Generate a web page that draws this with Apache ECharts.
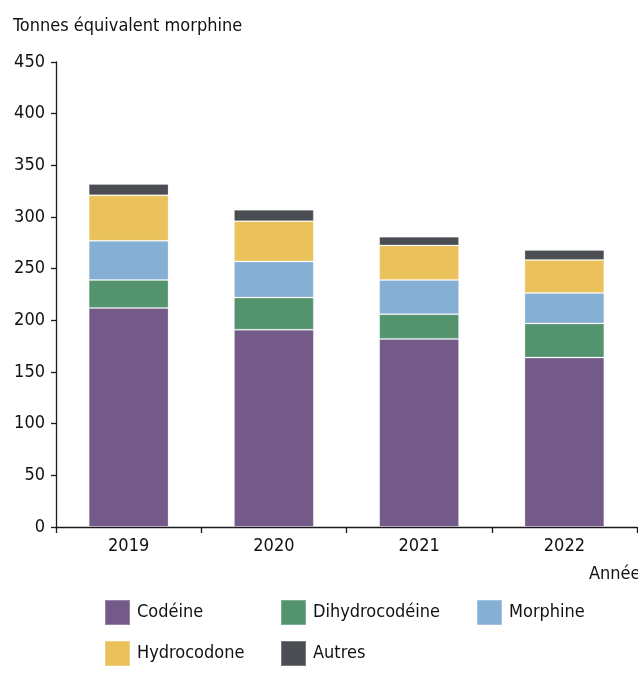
<!DOCTYPE html>
<html>
<head>
<meta charset="utf-8">
<script src="https://cdn.jsdelivr.net/npm/echarts@6/dist/echarts.min.js"></script>
<style>
html,body{margin:0;padding:0;background:#fff;}
#chart{width:638px;height:695px;}
</style>
</head>
<body>
<div id="chart"></div>
<script>
var years = ['2019', '2020', '2021', '2022'];
var codeine = [212, 191, 182, 164];
var dihydrocodeine = [27, 31, 24, 33];
var morphine = [38, 35, 33, 29.5];
var hydrocodone = [44, 39, 33.5, 32];
var autres = [11, 11, 8.5, 9.5];
var yTicks = [0, 50, 100, 150, 200, 250, 300, 350, 400, 450];

var FONT = "'Liberation Sans Narrow', 'DejaVu Sans Condensed', sans-serif";
var TXT = '#111111';
var FS = 18;

var seriesDefs = [
  {name: 'Codéine', data: codeine, color: '#735A89'},
  {name: 'Dihydrocodéine', data: dihydrocodeine, color: '#53936E'},
  {name: 'Morphine', data: morphine, color: '#85AFD3'},
  {name: 'Hydrocodone', data: hydrocodone, color: '#EAC15A'},
  {name: 'Autres', data: autres, color: '#4A4D52'}
];

function legendCol(left, names) {
  return {
    orient: 'vertical', left: left, top: 599,
    itemWidth: 25, itemHeight: 25, itemGap: 14, icon: 'rect',
    padding: 0, selectedMode: false,
    data: names,
    textStyle: {fontFamily: FONT, fontSize: FS, color: TXT, lineHeight: 25, padding: [0, 0, 0, 2]}
  };
}

var chart = echarts.init(document.getElementById('chart'), null, {renderer: 'canvas'});
chart.setOption({
  animation: false,
  backgroundColor: '#ffffff',
  grid: {left: 56, right: 1, top: 62, bottom: 168, containLabel: false},
  legend: [
    legendCol(104, ['Codéine', 'Hydrocodone']),
    legendCol(280, ['Dihydrocodéine', 'Autres']),
    legendCol(476, ['Morphine'])
  ],
  graphic: [
    {type: 'text', x: 13, y: 26, style: {text: 'Tonnes équivalent morphine', fontFamily: FONT, fontSize: FS, fill: TXT, verticalAlign: 'middle', align: 'left'}},
    {type: 'text', x: 589, y: 574, style: {text: 'Années', fontFamily: FONT, fontSize: FS, fill: TXT, verticalAlign: 'middle', align: 'left'}}
  ],
  xAxis: {
    type: 'category',
    data: years,
    boundaryGap: true,
    axisLine: {lineStyle: {color: '#1a1a1a', width: 1.3}},
    axisTick: {show: true, length: 6, alignWithLabel: false, lineStyle: {color: '#1a1a1a', width: 1.3}},
    axisLabel: {fontFamily: FONT, fontSize: FS, color: TXT, margin: 10}
  },
  yAxis: {
    type: 'value',
    min: yTicks[0], max: yTicks[yTicks.length - 1], interval: 50,
    axisLine: {show: true, lineStyle: {color: '#1a1a1a', width: 1.3}},
    axisTick: {show: true, length: 5, lineStyle: {color: '#1a1a1a', width: 1.3}},
    splitLine: {show: false},
    axisLabel: {fontFamily: FONT, fontSize: FS, color: TXT, margin: 11}
  },
  series: seriesDefs.map(function (s) {
    return {
      name: s.name, type: 'bar', stack: 'total', data: s.data,
      barWidth: '55%',
      itemStyle: {color: s.color, borderColor: 'rgba(255,255,255,0.25)', borderWidth: 1}
    };
  })
});
</script>
</body>
</html>
